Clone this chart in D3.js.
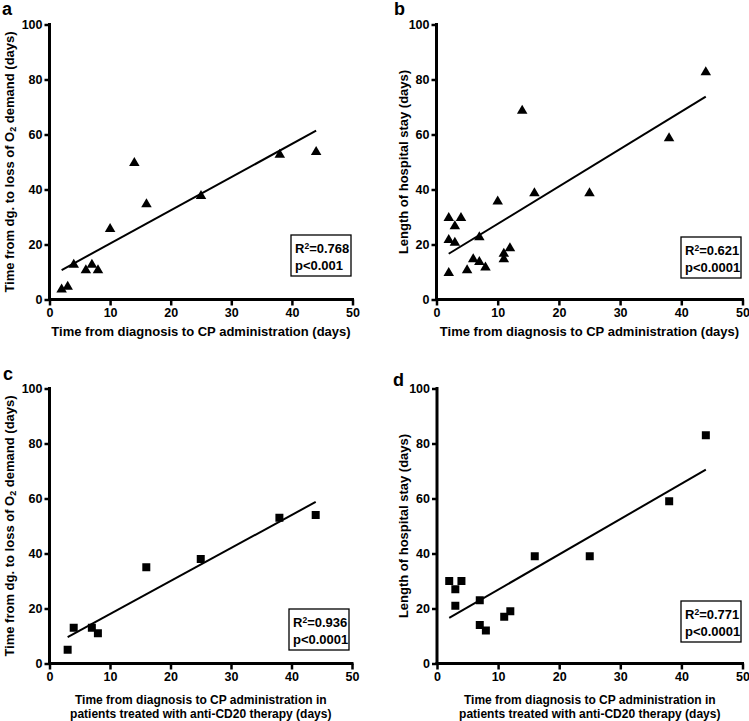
<!DOCTYPE html>
<html><head><meta charset="utf-8">
<script src="https://cdn.jsdelivr.net/npm/d3@7"></script>
<style>
body{margin:0;background:#fff;}
svg text{font-family:"Liberation Sans",Arial,sans-serif;font-weight:bold;fill:#000;}
</style></head>
<body><svg id="c" width="749" height="721"></svg>
<script>
// ---- data ----
const xTicks = [0,10,20,30,40,50];
const yTicks = [0,20,40,60,80,100];
const panelLetters = ["a","b","c","d"];
// panel a: time to CP vs time to loss of O2 demand (all patients)
const aX = [2,3,4,6,7,8,10,14,16,25,38,44];
const aY = [4,5,13,11,13,11,26,50,35,38,53,54];
// panel b: time to CP vs length of hospital stay (all patients)
const bX = [2,2,2,3,3,4,5,6,7,7,8,10,11,11,12,14,16,25,38,44];
const bY = [30,22,10,27,21,30,11,15,23,14,12,36,17,15,19,69,39,39,59,83];
// panel c: anti-CD20 patients, loss of O2 demand
const cX = [3,4,7,8,16,25,38,44];
const cY = [5,13,13,11,35,38,53,54];
// panel d: anti-CD20 patients, hospital stay
const dX = [2,3,3,4,7,7,8,11,12,16,25,38,44];
const dY = [30,27,21,30,23,14,12,17,19,39,39,59,83];
const r2Labels = ["0.768","0.621","0.936","0.771"];
const pLabels = ["p<0.001","p<0.0001","p<0.0001","p<0.0001"];
const yLabelO2 = ["Time from dg. to loss of O","2"," demand (days)"];
const yLabelStay = "Length of hospital stay (days)";
const xLabelAll = ["Time from diagnosis to CP administration (days)"];
const xLabelCD20 = ["Time from diagnosis to CP administration in","patients treated with anti-CD20 therapy (days)"];

const svg = d3.select("#c");

const panels = [
  {xs:aX, ys:aY, sym:d3.symbolTriangle, x0:49.5, x1:352.5, y0:24.5, y1:299.5, yl:"o2", xl:xLabelAll, lx:9, letter:[2,15], box:[291,235]},
  {xs:bX, ys:bY, sym:d3.symbolTriangle, x0:436.5, x1:742.5, y0:24.5, y1:299.5, yl:"stay", xl:xLabelAll, lx:403, letter:[394,15], box:[681,237]},
  {xs:cX, ys:cY, sym:d3.symbolSquare, x0:49.5, x1:352, y0:388.5, y1:663.5, yl:"o2", xl:xLabelCD20, lx:9, letter:[3,380], box:[289,609]},
  {xs:dX, ys:dY, sym:d3.symbolSquare, x0:437, x1:742.5, y0:388.5, y1:663.5, yl:"stay", xl:xLabelCD20, lx:403, letter:[393,386], box:[681,601]}
];

function fit(xs, ys){
  const n=xs.length, mx=d3.mean(xs), my=d3.mean(ys);
  let sxy=0,sxx=0;
  for(let i=0;i<n;i++){sxy+=(xs[i]-mx)*(ys[i]-my);sxx+=(xs[i]-mx)**2;}
  const m=sxy/sxx; return {m, b:my-m*mx};
}

panels.forEach((p,i)=>{
  const x = d3.scaleLinear().domain([0,50]).range([p.x0,p.x1]);
  const y = d3.scaleLinear().domain([0,100]).range([p.y1,p.y0]);
  const g = svg.append("g");

  const xa = g.append("g").attr("transform",`translate(0,${p.y1})`)
    .call(d3.axisBottom(x).tickValues(xTicks).tickSize(6).tickPadding(3).tickFormat(d3.format("d")));
  const ya = g.append("g").attr("transform",`translate(${p.x0},0)`)
    .call(d3.axisLeft(y).tickValues(yTicks).tickSize(5).tickPadding(2).tickFormat(d3.format("d")));
  [xa,ya].forEach(a=>{
    a.attr("font-family",null).attr("font-size",null);
    a.select(".domain").attr("stroke","#000").attr("stroke-width",3);
    a.selectAll(".tick line").attr("stroke","#000").attr("stroke-width",2.5);
    a.selectAll(".tick text").style("font-size","12.5px").style("font-weight","bold")
      .style("font-family","'Liberation Sans',Arial,sans-serif").attr("fill","#000");
  });
  xa.select(".domain").attr("d",`M${p.x0-1.5},0H${p.x1+1.5}`);
  ya.select(".domain").attr("d",`M0,${p.y1+1.5}V${p.y0-1.5}`);

  // regression line
  const f = fit(p.xs,p.ys);
  const xmin=d3.min(p.xs), xmax=d3.max(p.xs);
  g.append("line").attr("x1",x(xmin)).attr("y1",y(f.m*xmin+f.b))
    .attr("x2",x(xmax)).attr("y2",y(f.m*xmax+f.b))
    .attr("stroke","#000").attr("stroke-width",2);

  // points
  const tri = p.sym===d3.symbolTriangle;
  const sym = d3.symbol().type(p.sym).size(tri?48:64);
  g.selectAll("path.pt").data(p.xs.map((v,k)=>[v,p.ys[k]])).join("path").attr("class","pt")
    .attr("d",sym).attr("transform",d=>`translate(${x(d[0])},${y(d[1])+(tri?1:0)})`).attr("fill","#000");

  // y label
  const cy=(p.y0+p.y1)/2;
  const yt = g.append("text").attr("transform",`translate(${p.lx},${cy}) rotate(-90)`)
    .attr("text-anchor","middle").attr("dy","0.35em").style("font-size","13px");
  if(p.yl==="o2"){
    yt.append("tspan").text(yLabelO2[0]);
    yt.append("tspan").text(yLabelO2[1]).attr("baseline-shift","-25%").style("font-size","9px");
    yt.append("tspan").text(yLabelO2[2]);
  } else yt.text(yLabelStay);

  // x label
  const cx=(p.x0+p.x1)/2;
  if(p.xl.length===1){
    g.append("text").attr("x",cx).attr("y",p.y1+36).attr("text-anchor","middle")
      .style("font-size","13px").text(p.xl[0]);
  } else {
    p.xl.forEach((t,k)=>{
      g.append("text").attr("x",cx).attr("y",p.y1+40.5+k*13.5).attr("text-anchor","middle")
        .style("font-size","12px").text(t);
    });
  }

  // letter
  g.append("text").attr("x",p.letter[0]).attr("y",p.letter[1]).style("font-size","18px").text(panelLetters[i]);

  // stats box
  const bx=p.box[0], by=p.box[1];
  g.append("rect").attr("x",bx).attr("y",by).attr("width",60).attr("height",41)
    .attr("fill","#fff").attr("stroke","#000").attr("stroke-width",1.3);
  const t1=g.append("text").attr("x",bx+4).attr("y",by+18).style("font-size","13px");
  t1.append("tspan").text("R");
  t1.append("tspan").text("2").attr("baseline-shift","45%").style("font-size","8.5px");
  t1.append("tspan").text("="+r2Labels[i]);
  g.append("text").attr("x",bx+4).attr("y",by+35).style("font-size","13px").text(pLabels[i]);
});
</script></body></html>
